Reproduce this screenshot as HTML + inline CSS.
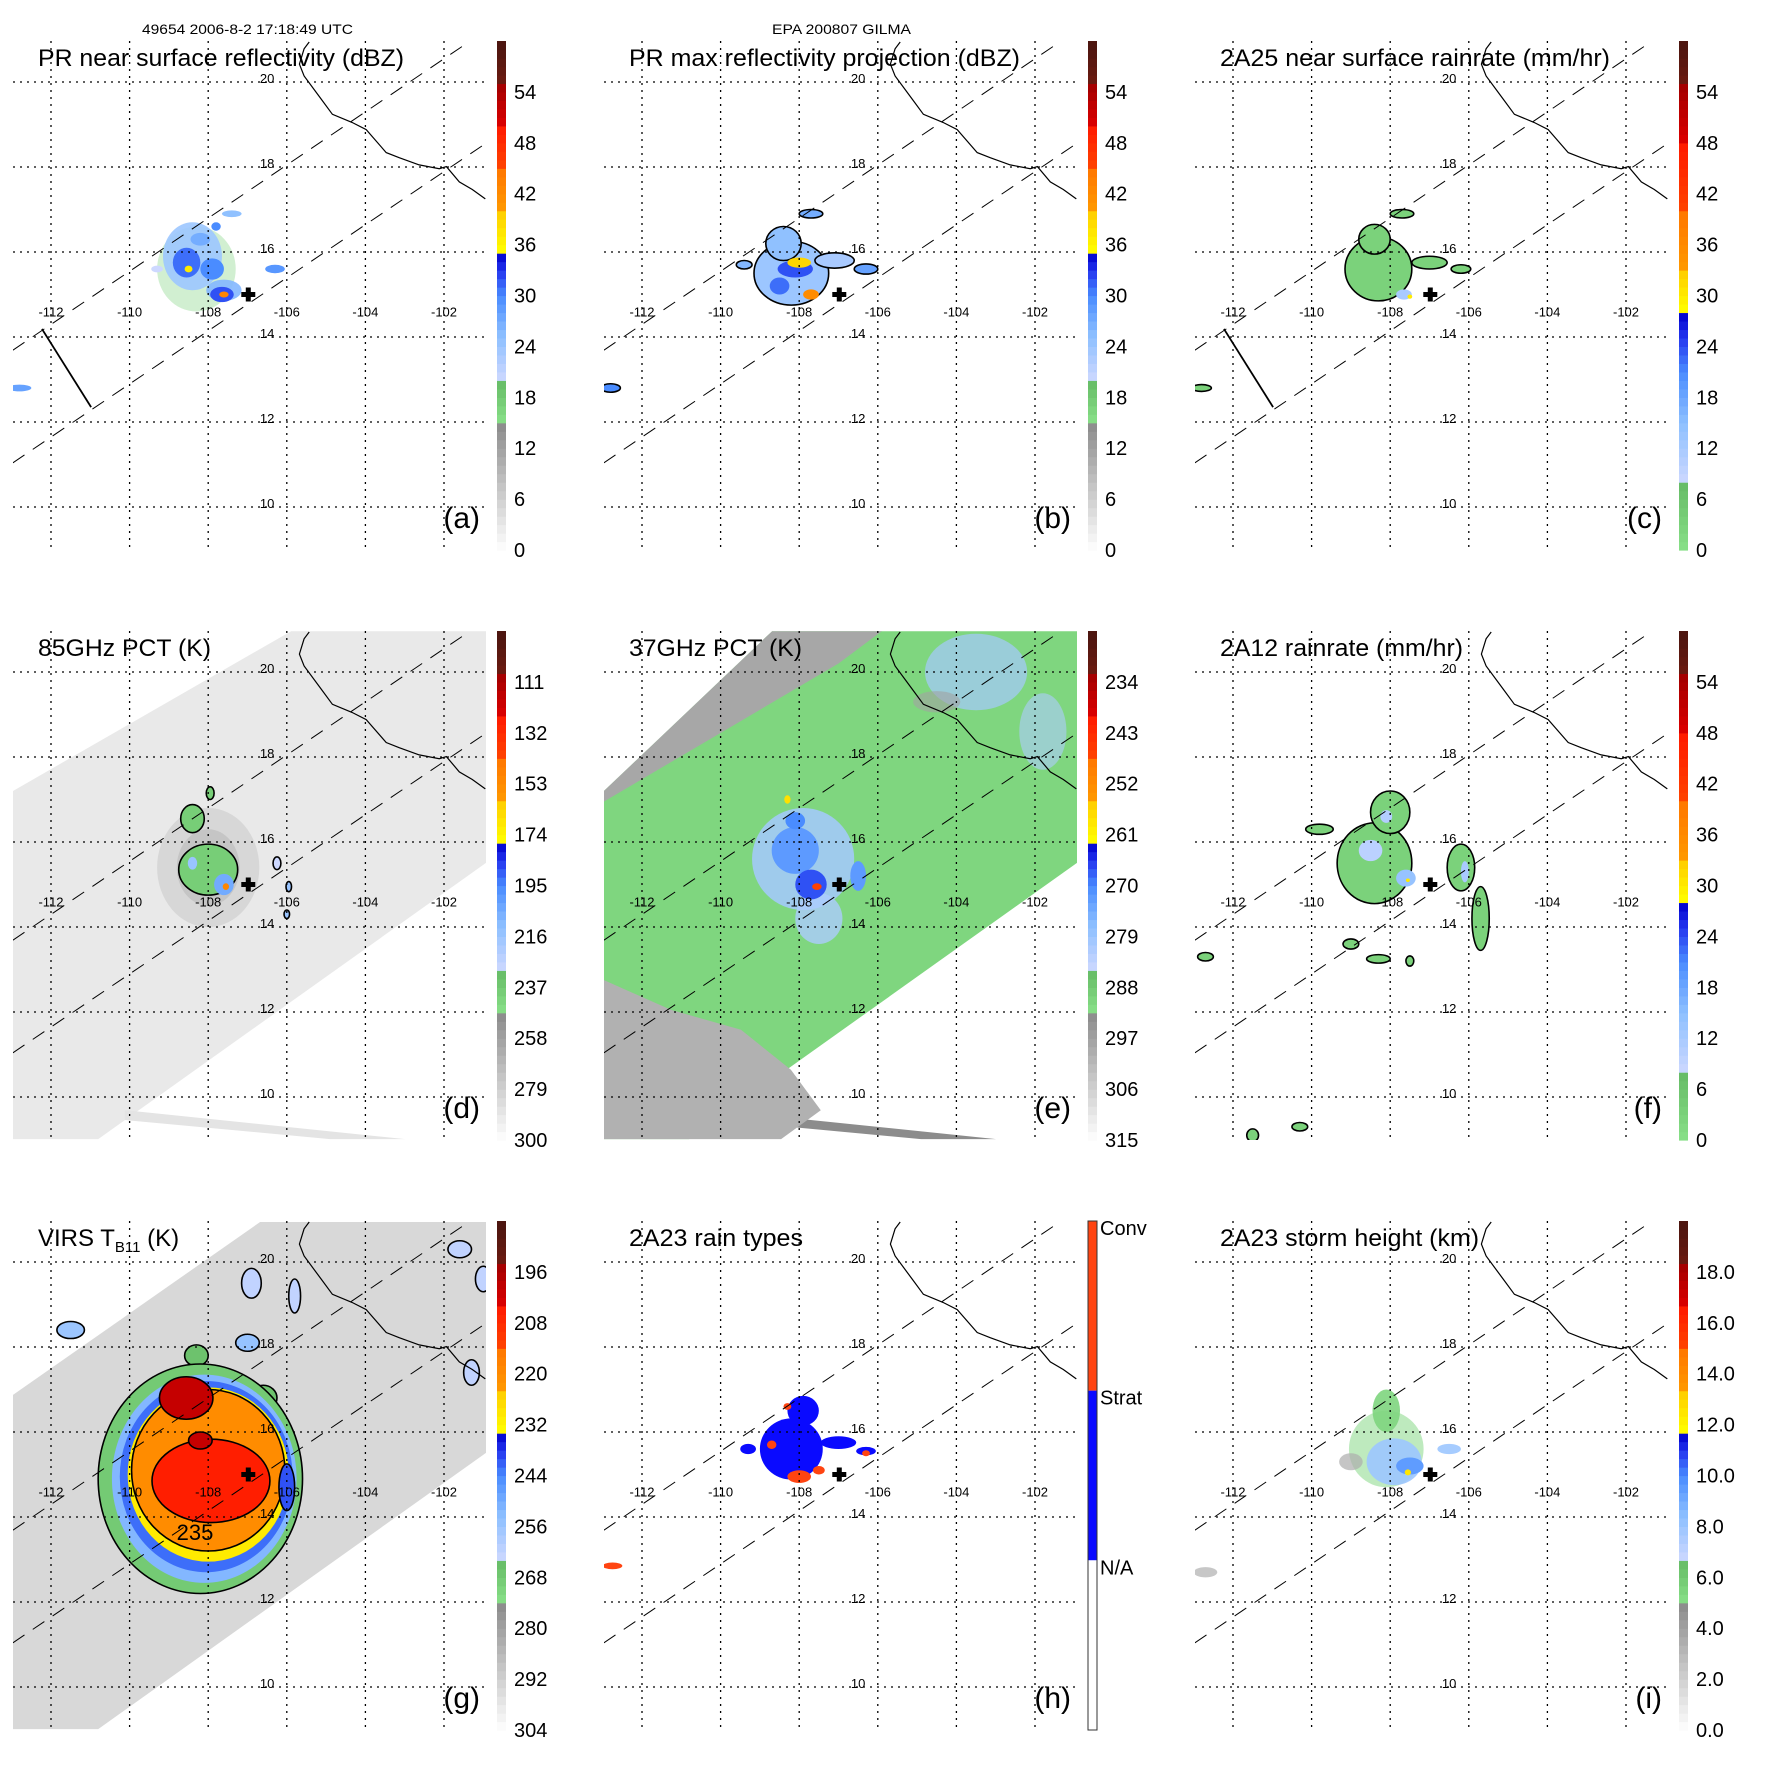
<!DOCTYPE html>
<html>
<head>
<meta charset="utf-8">
<style>
html,body{margin:0;padding:0;background:#fff;}
svg{display:block;}
text{font-family:"Liberation Sans",sans-serif;fill:#000;}
</style>
</head>
<body>
<svg id="fig" width="1771" height="1771" viewBox="0 0 1771 1771" xmlns="http://www.w3.org/2000/svg">
<text x="142" y="34" font-size="14" textLength="211" lengthAdjust="spacingAndGlyphs">49654 2006-8-2 17:18:49 UTC</text>
<text x="772" y="34" font-size="14" textLength="139" lengthAdjust="spacingAndGlyphs">EPA 200807 GILMA</text>
</svg>
<script>
// ---------- data ----------
const lonTicks=[-112,-110,-108,-106,-104,-102];
const latTicks=[10,12,14,16,18,20];
const coastLon=[-105.43,-105.56,-105.68,-105.56,-105.12,-104.84,-104.34,-103.98,-103.47,-103.14,-102.63,-102.12,-101.94,-101.61,-101.28,-100.95];
const coastLat=[20.94,20.78,20.42,20.14,19.59,19.24,19.05,18.88,18.34,18.22,18.05,17.96,18.01,17.65,17.47,17.25];
const stormLon=-106.98, stormLat=15.0;
const swathLineA=[[-112.97,13.69],[-101.34,20.96]];
const swathLineB=[[-112.97,11.04],[-100.93,18.56]];
const edgeSeg=[[-112.23,14.19],[-110.98,12.35]];
const tmiSwathLon=[-112.97,-105.89,-100.93,-100.93,-110.8,-112.97];
const tmiSwathLat=[17.2,20.96,20.96,15.51,9.01,9.01];
const t37SwathLon=[-112.97,-108.69,-100.93,-100.93,-110.8,-112.97];
const t37SwathLat=[17.2,20.96,20.96,15.51,9.01,9.01];
const virsSwathLon=[-112.97,-106.68,-100.93,-100.93,-110.8,-112.97];
const virsSwathLat=[16.87,20.94,20.94,15.51,9.01,9.01];
const wedgeLon=[-110.12,-110.12,-104.9,-102.99];
const wedgeLat=[9.69,9.46,9.01,9.01];
const eGreyLon=[-112.97,-111.26,-109.48,-108.21,-107.45,-108.46,-112.97];
const eGreyLat=[12.75,12.05,11.58,10.64,9.69,9.01,9.01];
const eStripLon=[-112.97,-108.69,-105.9,-107.0,-112.97];
const eStripLat=[17.2,20.96,20.96,20.2,16.95];

const ticksDbz=['0','6','12','18','24','30','36','42','48','54'];
const ticksRain=['0','6','12','18','24','30','36','42','48','54'];
const ticks85=['300','279','258','237','216','195','174','153','132','111'];
const ticks37=['315','306','297','288','279','270','261','252','243','234'];
const ticksVirs=['304','292','280','268','256','244','232','220','208','196'];
const ticksHgt=['0.0','2.0','4.0','6.0','8.0','10.0','12.0','14.0','16.0','18.0'];
const typeLabels=['Conv','Strat','N/A'];

// blobs: [lon, lat, rxDeg, ryDeg, value, outlined, opacity]
const blobsA=[[-108.3,15.6,1.0,1.0,17,0,0.35],[-108.4,15.9,0.75,0.8,24,0,0.9],[-107.6,15.1,0.45,0.25,26,0,0.9],[-108.55,15.75,0.35,0.35,31,0,1],[-107.9,15.6,0.3,0.25,30,0,1],[-107.65,15.0,0.3,0.18,32,0,1],[-107.6,15.0,0.12,0.07,43,0,1],[-108.5,15.6,0.1,0.08,37,0,1],[-108.2,16.3,0.25,0.15,27,0,1],[-106.3,15.6,0.25,0.1,29,0,1],[-107.4,16.9,0.25,0.08,25,0,1],[-107.8,16.6,0.12,0.1,30,0,1],[-112.8,12.8,0.3,0.08,28,0,1],[-109.3,15.6,0.15,0.08,20,0,1]];
const blobsB=[[-108.2,15.5,0.95,0.75,24,1,1],[-108.4,16.2,0.45,0.4,25,1,1],[-107.1,15.8,0.5,0.18,23,1,1],[-106.3,15.6,0.3,0.12,28,1,1],[-108.1,15.6,0.45,0.2,32,0,1],[-108.0,15.75,0.3,0.12,39,0,1],[-107.7,15.0,0.2,0.12,42,0,1],[-108.5,15.2,0.25,0.2,31,0,1],[-107.7,16.9,0.3,0.1,27,1,1],[-109.4,15.7,0.2,0.1,26,1,1],[-112.8,12.8,0.25,0.1,30,1,1]];
const blobsC=[[-108.3,15.6,0.85,0.75,3,1,1],[-108.4,16.3,0.4,0.35,3,1,1],[-107.0,15.75,0.45,0.15,3,1,1],[-106.2,15.6,0.25,0.1,3,1,1],[-107.65,15.0,0.2,0.12,12,0,1],[-107.5,14.95,0.06,0.05,30,0,1],[-112.8,12.8,0.25,0.08,3,1,1],[-107.7,16.9,0.3,0.1,3,1,1]];
const blobsD=[[-108.0,15.4,1.3,1.4,272,0,0.45],[-108.0,15.4,0.8,0.9,262,0,0.4],[-108.0,15.35,0.75,0.6,239,1,1],[-108.4,16.55,0.3,0.33,239,1,1],[-107.95,17.15,0.1,0.15,239,1,1],[-107.6,15.0,0.25,0.25,205,0,1],[-108.4,15.5,0.12,0.15,215,0,1],[-107.55,14.95,0.08,0.08,150,0,1],[-106.25,15.5,0.1,0.15,230,1,1],[-105.95,14.95,0.07,0.12,215,1,1],[-106.0,14.3,0.07,0.1,215,1,1]];
const blobsE=[[-103.5,20.0,1.3,0.9,280,0,0.7],[-101.8,18.6,0.6,0.9,281,0,0.6],[-104.5,19.3,0.6,0.25,297,0,0.6],[-107.9,15.6,1.3,1.2,280,0,0.85],[-107.5,14.2,0.6,0.6,281,0,0.8],[-108.1,15.8,0.6,0.55,272,0,1],[-107.7,15.0,0.4,0.35,267,0,1],[-108.1,16.5,0.25,0.2,270,0,1],[-106.5,15.2,0.2,0.35,272,0,1],[-107.55,14.95,0.12,0.08,247,0,1],[-108.3,17.0,0.08,0.1,258,0,1]];
const blobsF=[[-108.4,15.5,0.95,0.95,3,1,1],[-108.0,16.7,0.5,0.5,3,1,1],[-109.8,16.3,0.35,0.12,3,1,1],[-106.2,15.4,0.35,0.55,3,1,1],[-105.7,14.2,0.22,0.75,3,1,1],[-107.6,15.15,0.25,0.2,14,0,1],[-107.55,15.1,0.05,0.04,30,0,1],[-108.5,15.8,0.3,0.25,10,0,1],[-108.1,16.6,0.15,0.15,11,0,1],[-106.1,15.3,0.1,0.25,12,0,1],[-109.0,13.6,0.2,0.12,3,1,1],[-108.3,13.25,0.3,0.1,3,1,1],[-107.5,13.2,0.1,0.12,3,1,1],[-112.7,13.3,0.2,0.1,3,1,1],[-110.3,9.3,0.2,0.1,3,1,1],[-111.5,9.1,0.15,0.15,3,1,1]];
const blobsG=[[-106.9,19.5,0.25,0.35,262,1,1],[-105.8,19.2,0.15,0.4,262,1,1],[-107.0,18.1,0.3,0.2,255,1,1],[-101.6,20.3,0.3,0.2,262,1,1],[-101.3,17.4,0.2,0.3,262,1,1],[-111.5,18.4,0.35,0.2,256,1,1],[-108.3,17.8,0.3,0.25,266,1,1],[-106.6,16.8,0.35,0.3,266,1,1],[-101.0,19.6,0.2,0.3,262,1,1],
[-108.2,14.9,2.6,2.7,268,1,1],[-108.1,14.9,2.35,2.45,252,0,1],[-108.05,14.95,2.2,2.25,242,0,1],[-108.0,15.0,2.05,2.05,230,0,1],[-108.0,15.1,1.95,1.9,220,1,1],[-107.93,14.85,1.5,0.98,205,1,1],[-108.56,16.8,0.68,0.5,200,1,1],[-108.2,15.8,0.3,0.2,200,1,1],[-106.0,14.7,0.2,0.55,240,1,1]];
const blobsH=[[-108.2,15.6,0.8,0.72,2,0,1],[-107.9,16.5,0.4,0.35,2,0,1],[-107.0,15.75,0.45,0.15,2,0,1],[-106.3,15.55,0.25,0.1,2,0,1],[-108.0,14.95,0.3,0.15,3,0,1],[-108.7,15.7,0.12,0.1,3,0,1],[-107.5,15.1,0.15,0.1,3,0,1],[-108.3,16.6,0.1,0.08,3,0,1],[-106.3,15.5,0.1,0.07,3,0,1],[-112.75,12.85,0.25,0.08,3,0,1],[-109.3,15.6,0.2,0.12,2,0,1]];
const blobsI=[[-108.1,15.6,0.95,0.9,5.5,0,0.5],[-108.1,16.5,0.35,0.5,5.5,0,0.9],[-107.9,15.3,0.7,0.55,8,0,0.9],[-107.5,15.2,0.35,0.2,9.5,0,1],[-107.55,15.05,0.08,0.07,12.5,0,1],[-106.5,15.6,0.3,0.12,8,0,0.9],[-112.7,12.7,0.3,0.12,3,0,0.8],[-109.0,15.3,0.3,0.2,3.5,0,0.7]];

// ---------- rendering ----------
const NS='http://www.w3.org/2000/svg';
const svg=document.getElementById('fig');
const COL=591, ROW=590;
function X(c,lon){return 51+c*COL+(lon+112)*39.3;}
function Y(r,lat){return 82+r*ROW+(20-lat)*42.5;}
function mk(tag,attrs,parent){const e=document.createElementNS(NS,tag);for(const k in attrs)e.setAttribute(k,attrs[k]);parent.appendChild(e);return e;}
const stopsStd=[[0,'#ffffff'],[0.25,'#8a8a8a'],[0.2501,'#88e088'],[0.333,'#66bb66'],[0.3331,'#cdd8ff'],[0.42,'#8ec0ff'],[0.5,'#4a8cff'],[0.55,'#2233ee'],[0.583,'#0000cc'],[0.5831,'#ffff00'],[0.667,'#ffcc00'],[0.6671,'#ff9900'],[0.75,'#ff7700'],[0.7501,'#ff4400'],[0.833,'#ff1a00'],[0.8331,'#dd0000'],[0.917,'#a00000'],[0.9171,'#6b1a10'],[1,'#4a1510']];
const stopsRain=[[0,'#88e088'],[0.133,'#66bb66'],[0.1331,'#cdd8ff'],[0.25,'#8ec0ff'],[0.35,'#4a8cff'],[0.42,'#2233ee'],[0.467,'#0000cc'],[0.4671,'#ffff00'],[0.55,'#ffcc00'],[0.5501,'#ff9900'],[0.667,'#ff7700'],[0.6671,'#ff4400'],[0.8,'#ff1a00'],[0.8001,'#dd0000'],[0.917,'#a00000'],[0.9171,'#6b1a10'],[1,'#4a1510']];
function hex(c){return [parseInt(c.substr(1,2),16),parseInt(c.substr(3,2),16),parseInt(c.substr(5,2),16)];}
function cmap(stops,f){f=Math.max(0,Math.min(1,f));for(let i=1;i<stops.length;i++){if(f<=stops[i][0]){const a=stops[i-1],b=stops[i];const t=(f-a[0])/(b[0]-a[0]||1);const ca=hex(a[1]),cb=hex(b[1]);return 'rgb('+ca.map((v,j)=>Math.round(v+(cb[j]-v)*t)).join(',')+')';}}return stops[stops.length-1][1];}

const panels=[
 {k:'a',c:0,r:0,title:'PR near surface reflectivity (dBZ)',tw:366,vmin:0,vmax:60,stops:stopsStd,ticks:ticksDbz,blobs:blobsA,seg:true},
 {k:'b',c:1,r:0,title:'PR max reflectivity projection (dBZ)',tw:391,vmin:0,vmax:60,stops:stopsStd,ticks:ticksDbz,blobs:blobsB},
 {k:'c',c:2,r:0,title:'2A25 near surface rainrate (mm/hr)',tw:390,vmin:0,vmax:60,stops:stopsRain,ticks:ticksRain,blobs:blobsC,seg:true},
 {k:'d',c:0,r:1,title:'85GHz PCT (K)',tw:173,vmin:300,vmax:90,stops:stopsStd,ticks:ticks85,blobs:blobsD,swath:'tmi',bg:290,wedge:'#e4e4e4'},
 {k:'e',c:1,r:1,title:'37GHz PCT (K)',tw:173,vmin:315,vmax:225,stops:stopsStd,ticks:ticks37,blobs:blobsE,swath:'t37',bg:290.5,wedge:'#8c8c8c',egrey:true},
 {k:'f',c:2,r:1,title:'2A12 rainrate (mm/hr)',tw:243,vmin:0,vmax:60,stops:stopsRain,ticks:ticksRain,blobs:blobsF},
 {k:'g',c:0,r:2,title:'VIRS T',tw:0,vmin:304,vmax:184,stops:stopsStd,ticks:ticksVirs,blobs:blobsG,swath:'virs',bg:294},
 {k:'h',c:1,r:2,title:'2A23 rain types',tw:174,types:true,blobs:blobsH},
 {k:'i',c:2,r:2,title:'2A23 storm height (km)',tw:259,vmin:0,vmax:20,stops:stopsStd,ticks:ticksHgt,blobs:blobsI}
];

function colorFor(p,v){ if(p.types) return v===3?'#ff4411':'#0a0aff'; return cmap(p.stops,(v-p.vmin)/(p.vmax-p.vmin)); }
function polyPts(p,lons,lats){return lons.map((l,i)=>X(p.c,l).toFixed(1)+','+Y(p.r,lats[i]).toFixed(1)).join(' ');}

panels.forEach(p=>{
  const ox=p.c*COL, oy=p.r*ROW;
  const g=mk('g',{},svg);
  
  
  const cp=mk('clipPath',{id:'clip-'+p.k},g);
  mk('rect',{x:13+ox,y:41+oy,width:473,height:509},cp);
  const m=mk('g',{'clip-path':'url(#clip-'+p.k+')'},g);
  
  
  if(p.swath){
    let lons=tmiSwathLon, lats=tmiSwathLat;
    if(p.swath==='virs'){lons=virsSwathLon;lats=virsSwathLat;}
    if(p.swath==='t37'){lons=t37SwathLon;lats=t37SwathLat;}
    const sw=mk('polygon',{points:polyPts(p,lons,lats),fill:colorFor(p,p.bg)},m);
    
    
    if(p.wedge){
      const wd=mk('polygon',{points:polyPts(p,wedgeLon,wedgeLat),fill:p.wedge},m);
      
      
    }
    if(p.egrey){
      const gr=mk('polygon',{points:polyPts(p,eGreyLon,eGreyLat),fill:colorFor(p,300)},m);
      
      
      const st=mk('polygon',{points:polyPts(p,eStripLon,eStripLat),fill:colorFor(p,298)},m);
      
      
    }
  }
  p.blobs.forEach(b=>{
    const e=mk('ellipse',{cx:X(p.c,b[0]),cy:Y(p.r,b[1]),rx:b[2]*39.3,ry:b[3]*42.5,fill:colorFor(p,b[4]),'fill-opacity':b[6],stroke:b[5]?'#000':'none','stroke-width':1.6},m);
    
    
  });
  lonTicks.forEach(l=>{
    const ln=mk('line',{x1:X(p.c,l),x2:X(p.c,l),y1:41+oy,y2:550+oy,stroke:'#000','stroke-width':1.3,'stroke-dasharray':'2,5'},m);
    
    
    const t=mk('text',{x:X(p.c,l),y:Y(p.r,14.6)+5,'font-size':13,'text-anchor':'middle'},m);
    t.textContent=String(l);
    
    
  });
  latTicks.forEach(l=>{
    const ln=mk('line',{x1:13+ox,x2:486+ox,y1:Y(p.r,l),y2:Y(p.r,l),stroke:'#000','stroke-width':1.3,'stroke-dasharray':'2,5'},m);
    
    
    const t=mk('text',{x:X(p.c,-106.5),y:Y(p.r,l)+1,'font-size':13,'text-anchor':'middle'},m);
    t.textContent=String(l);
    
    
  });
  [swathLineA,swathLineB].forEach(s=>{
    const dl=mk('line',{x1:X(p.c,s[0][0]),y1:Y(p.r,s[0][1]),x2:X(p.c,s[1][0]),y2:Y(p.r,s[1][1]),stroke:'#000','stroke-width':1,'stroke-dasharray':'14,10'},m);
    
    
  });
  if(p.seg){
    const sl=mk('line',{x1:X(p.c,edgeSeg[0][0]),y1:Y(p.r,edgeSeg[0][1]),x2:X(p.c,edgeSeg[1][0]),y2:Y(p.r,edgeSeg[1][1]),stroke:'#000','stroke-width':1.8},m);
    
    
  }
  const cl=mk('polyline',{points:polyPts(p,coastLon,coastLat),fill:'none',stroke:'#000','stroke-width':1.2},m);
  
  
  const cx=X(p.c,stormLon), cy=Y(p.r,stormLat);
  const cr=mk('path',{d:`M${cx-7},${cy-2.5}h14v5h-14z M${cx-2.5},${cy-7}h5v14h-5z`,fill:'#000'},m);
  
  
  if(p.k==='g'){
    const t=mk('text',{x:195+ox,y:1540,'font-size':22,'text-anchor':'middle'},m);
    t.textContent='235';
    
    
  }
  const tt=mk('text',{x:38+ox,y:66+oy,'font-size':24},g);
  if(p.k==='g'){
    tt.textContent='VIRS T';
    const sub=mk('tspan',{'font-size':15,dy:6},tt);
    sub.textContent='B11';
    const rest=mk('tspan',{dy:-6},tt);
    rest.textContent=' (K)';
  } else {
    tt.textContent=p.title;
    tt.setAttribute('textLength',p.tw);
    tt.setAttribute('lengthAdjust','spacingAndGlyphs');
  }
  
  
  const pl=mk('text',{x:480+ox,y:528+oy,'font-size':30,'text-anchor':'end'},g);
  pl.textContent='('+p.k+')';
  
  
  const cbx=497+ox, cbTop=41+oy, cbH=509;
  const cb=mk('g',{},g);
  
  
  if(p.types){
    const cols=['#ff4411','#0a0aff','#ffffff'];
    cols.forEach((c,i)=>{
      const r=mk('rect',{x:cbx,y:cbTop+i*cbH/3,width:9,height:cbH/3,fill:c},cb);
      
      
    });
    const o=mk('rect',{x:cbx,y:cbTop,width:9,height:cbH,fill:'none',stroke:'#333','stroke-width':1},cb);
    
    
    typeLabels.forEach((s,i)=>{
      const t=mk('text',{x:cbx+12,y:cbTop+i*cbH/3+14,'font-size':20},cb);
      t.textContent=s;
      
      
    });
  } else {
    const N=60;
    for(let i=0;i<N;i++){
      const r=mk('rect',{x:cbx,y:cbTop+cbH-(i+1)*cbH/N,width:9,height:cbH/N+0.6,fill:cmap(p.stops,(i+0.5)/N)},cb);
      
      
    }
    p.ticks.forEach((s,i)=>{
      const t=mk('text',{x:cbx+17,y:cbTop+cbH-i*cbH/10+7,'font-size':20},cb);
      t.textContent=s;
      
      
    });
  }
});
</script>
</body>
</html>
